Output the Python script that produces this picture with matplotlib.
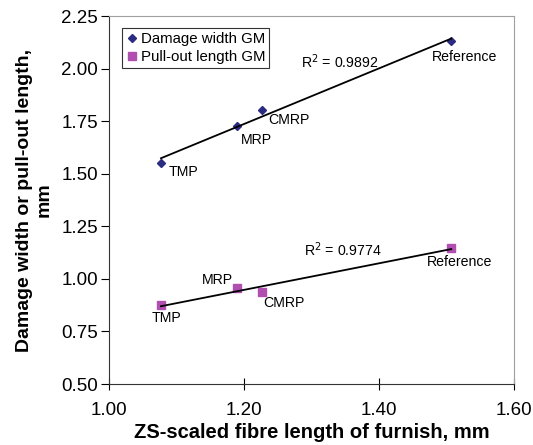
import matplotlib
matplotlib.use('Agg')
import matplotlib.pyplot as plt
import numpy as np

plt.rcParams['font.family'] = ['Liberation Sans', 'DejaVu Sans']

# data
pulps = ['TMP', 'MRP', 'CMRP', 'Reference']
fibre_length = [1.077, 1.190, 1.227, 1.507]
damage_width = [1.551, 1.727, 1.803, 2.131]
pullout_length = [0.876, 0.957, 0.938, 1.147]
r2_damage = '0.9892'
r2_pullout = '0.9774'

col_dmg = '#2b2b82'
col_pull = '#b14fb0'

fig = plt.figure(figsize=(5.33, 4.45), dpi=100)
ax = fig.add_axes([0.2045, 0.137, 0.76, 0.827])

x = np.array(fibre_length)
for y, col, mk, ms, lab in [(damage_width, col_dmg, 'D', 4, 'Damage width GM'),
                            (pullout_length, col_pull, 's', 6.3, 'Pull-out length GM')]:
    y = np.array(y)
    ax.plot(x, y, linestyle='none', marker=mk, color=col, markersize=ms, label=lab)
    k, b = np.polyfit(x, y, 1)
    xx = np.array([x.min(), x.max()])
    ax.plot(xx, k * xx + b, color='black', lw=1.3)

# point labels (offsets in points, label centre relative to the marker)
off_d = {'TMP': (16.5, -6.5), 'MRP': (13.7, -10), 'CMRP': (19.4, -7.2), 'Reference': (9.4, -11.5)}
for px, py, name in zip(fibre_length, damage_width, pulps):
    ax.annotate(name, (px, py), xytext=off_d[name], textcoords='offset points',
                ha='center', va='center', fontsize=10.2)
off_p = {'TMP': (4.3, -9.4), 'MRP': (-14.4, 5.8), 'CMRP': (15.8, -7.9), 'Reference': (5.8, -10)}
for px, py, name in zip(fibre_length, pullout_length, pulps):
    ax.annotate(name, (px, py), xytext=off_p[name], textcoords='offset points',
                ha='center', va='center', fontsize=10.2)

ax.text(1.342, 2.031, r'R$^2$ = ' + r2_damage, fontsize=10.2, ha='center', va='center')
ax.text(1.347, 1.138, r'R$^2$ = ' + r2_pullout, fontsize=10.2, ha='center', va='center')

ax.set_xlim(1.0, 1.6)
ax.set_ylim(0.5, 2.25)
ax.set_xticks([1.0, 1.2, 1.4, 1.6])
ax.set_yticks(np.arange(0.5, 2.26, 0.25))
ax.xaxis.set_major_formatter(matplotlib.ticker.FormatStrFormatter('%.2f'))
ax.yaxis.set_major_formatter(matplotlib.ticker.FormatStrFormatter('%.2f'))
ax.tick_params(axis='x', direction='inout', length=8, labelsize=13.5, pad=9)
ax.tick_params(axis='y', direction='out', length=6, labelsize=13.5, pad=2)

for s in ['top', 'right']:
    ax.spines[s].set_color('#a0a0a0')
for s in ['left', 'bottom']:
    ax.spines[s].set_color('#333333')

ax.set_xlabel('ZS-scaled fibre length of furnish, mm', fontsize=14.5, fontweight='bold', labelpad=3)
ax.set_ylabel('Damage width or pull-out length,\nmm', fontsize=14, fontweight='bold', labelpad=6)

leg = ax.legend(loc='upper left', bbox_to_anchor=(0.032, 0.967), fontsize=10.8, frameon=True,
                fancybox=False, edgecolor='black', handletextpad=0.1, handlelength=0.9,
                borderpad=0.25, labelspacing=0.3, borderaxespad=0, handleheight=0.7)
leg.get_frame().set_linewidth(0.8)

fig.savefig('out.png', dpi=100)
